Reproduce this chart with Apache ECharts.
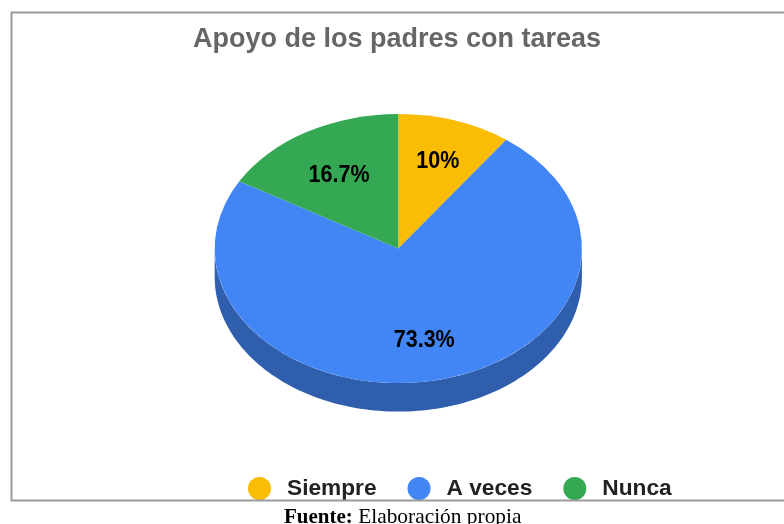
<!DOCTYPE html>
<html>
<head>
<meta charset="utf-8">
<style>
  html, body {margin: 0; padding: 0; background: #fff;}
  #chart {width: 784px; height: 524px;}
</style>
<script src="https://cdn.jsdelivr.net/npm/echarts@6/dist/echarts.min.js"></script>
</head>
<body>
<div id="chart"></div>
<script>
const categories = ['Siempre', 'A veces', 'Nunca']
const counts = [3, 22, 5]
const labels = ['10%', '73.3%', '16.7%']
const topColors = ['#fbbc04', '#4285f4', '#34a853']
const sideColors = ['#bc8d03', '#2f5eac', '#277e3e']

// pie geometry (tilted ellipse plus side wall)
const cx = 398.3
const cy = 248.6
const rx = 183.6
const ry = 134.5
const depth = 28.5
// how far along the radius each label sits
const labelReach = [0.695, 0.68, 0.645]
const labelDrop = 1.7

const total = counts.reduce((a, b) => a + b, 0)
let acc = 0
const ranges = counts.map(v => {
  const start = acc / total * Math.PI * 2
  acc += v
  return [start, acc / total * Math.PI * 2]
})

function rimPoint (a, dy) {
  return [cx + rx * Math.sin(a), cy - ry * Math.cos(a) + dy]
}

function renderSlice (idx) {
  return function (params, api) {
    const start = api.value(0)
    const end = api.value(1)
    const children = []
    // the wall only shows on the front half
    const from = Math.max(start, Math.PI / 2)
    const to = Math.min(end, Math.PI * 1.5)
    if (to > from) {
      const upper = []
      const lower = []
      const steps = 120
      for (let i = 0; i <= steps; i++) {
        const a = from + (to - from) * i / steps
        upper.push(rimPoint(a, 0))
        lower.unshift(rimPoint(a, depth))
      }
      children.push({
        type: 'polygon',
        shape: {points: upper.concat(lower)},
        style: {fill: sideColors[idx]}
      })
    }
    children.push({
      type: 'sector',
      x: cx,
      y: cy,
      scaleY: ry / rx,
      shape: {
        cx: 0,
        cy: 0,
        r0: 0,
        r: rx,
        startAngle: start - Math.PI / 2,
        endAngle: end - Math.PI / 2,
        clockwise: true
      },
      style: {fill: topColors[idx]}
    })
    const mid = (start + end) / 2
    children.push({
      type: 'text',
      x: cx + rx * labelReach[idx] * Math.sin(mid),
      y: cy - ry * labelReach[idx] * Math.cos(mid) + labelDrop,
      scaleY: 1.14,
      z2: 10,
      style: {
        text: labels[idx],
        fill: '#000',
        font: 'bold 21.5px "Liberation Sans", Arial, sans-serif',
        align: 'center',
        verticalAlign: 'middle'
      }
    })
    return {type: 'group', children}
  }
}

const chart = echarts.init(document.getElementById('chart'), null, {renderer: 'canvas'})

chart.setOption({
  backgroundColor: '#fff',
  animation: false,
  title: {
    text: 'Apoyo de los padres con tareas',
    left: 193,
    top: 26,
    padding: 0,
    textStyle: {
      color: '#666',
      fontFamily: '"Liberation Sans", Arial, sans-serif',
      fontWeight: 'bold',
      fontSize: 27
    }
  },
  legend: {
    data: categories,
    left: 248,
    top: 477,
    padding: 0,
    itemWidth: 23,
    itemHeight: 23,
    itemGap: 31,
    icon: 'circle',
    textStyle: {
      color: '#222',
      fontFamily: '"Liberation Sans", Arial, sans-serif',
      fontWeight: 'bold',
      fontSize: 22.7,
      padding: [6, 0, 0, 11]
    }
  },
  series: categories.map((name, i) => ({
    type: 'custom',
    name,
    coordinateSystem: 'none',
    silent: true,
    itemStyle: {color: topColors[i]},
    data: [ranges[i]],
    renderItem: renderSlice(i)
  })),
  graphic: [
    {
      type: 'rect',
      z: 100,
      shape: {x: 0, y: 501, width: 784, height: 23},
      style: {fill: '#fff'}
    },
    {
      type: 'rect',
      z: 101,
      shape: {x: 11.5, y: 12.5, width: 800, height: 488},
      style: {fill: 'none', stroke: '#9b9b9b', lineWidth: 2}
    },
    {
      type: 'text',
      z: 102,
      x: 284,
      y: 507,
      style: {
        rich: {
          b: {font: 'bold 21px "Liberation Serif", "Times New Roman", serif', fill: '#000'},
          n: {font: '21.4px "Liberation Serif", "Times New Roman", serif', fill: '#000', padding: [0, 0, 0, 2]}
        },
        text: '{b|Fuente:} {n|Elaboración propia}'
      }
    }
  ]
})
</script>
</body>
</html>
